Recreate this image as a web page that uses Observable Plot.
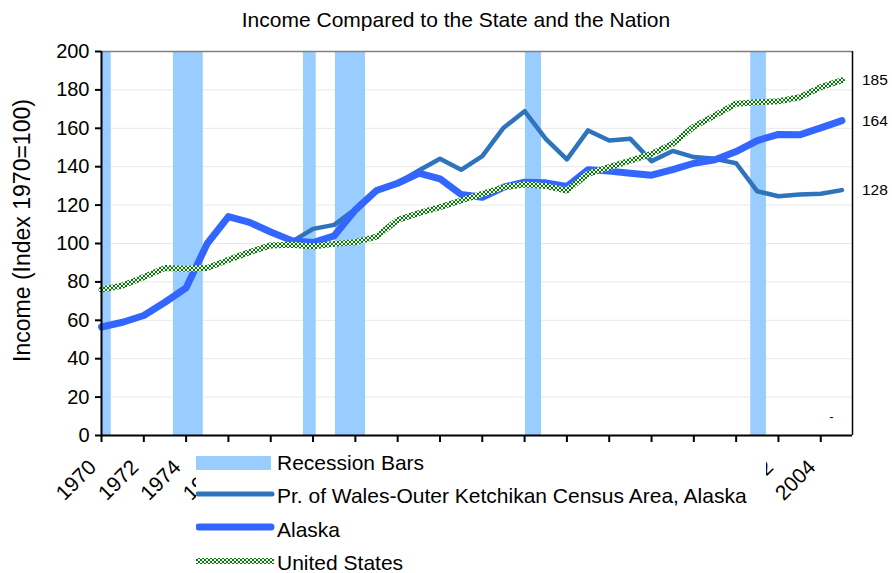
<!DOCTYPE html>
<html><head><meta charset="utf-8">
<script src="https://cdn.jsdelivr.net/npm/d3@7"></script>
<script src="https://cdn.jsdelivr.net/npm/@observablehq/plot@0.6"></script>
<style>
body{margin:0;background:#fff;font-family:"Liberation Sans",Arial,sans-serif;}
#wrap{position:relative;width:892px;height:573px;overflow:hidden;background:#fff;}
#chart{position:absolute;left:0;top:0;}
#title{position:absolute;left:0;width:912px;top:8px;text-align:center;font-size:21px;line-height:24px;color:#000;white-space:nowrap;}
#legend{position:absolute;left:196px;top:447px;width:570px;height:126px;background:#fff;}
</style></head><body>
<div id="wrap"><div id="chart"></div><div id="title">Income Compared to the State and the Nation</div><div id="legend"></div></div>
<script>
const years = [1970,1971,1972,1973,1974,1975,1976,1977,1978,1979,1980,1981,1982,1983,1984,1985,1986,1987,1988,1989,1990,1991,1992,1993,1994,1995,1996,1997,1998,1999,2000,2001,2002,2003,2004,2005];
const walesValues = [null,null,null,null,null,null,null,null,null,101,107.6,109.7,118,128,131.5,138,144.1,138.4,145.5,160.2,168.9,154.5,143.8,158.9,153.6,154.5,142.9,148.2,145,144.1,141.8,127.2,124.6,125.5,125.9,127.8];
const alaskaValues = [56.5,59,62.5,69.4,76.9,100,114,111,106,101.5,100.5,104,117.5,127.6,131.4,136.6,133.7,125.5,124.1,129.3,131.9,131.6,129.7,138.4,137.7,136.6,135.6,138.5,141.8,143.6,147.9,153.6,156.8,156.6,160.2,164];
const usValues = [76,78.1,82.5,87.2,86.8,87.2,91.5,95.5,99,99.3,98.4,99.8,100.7,103.6,112.3,115.8,118.9,122.4,125.9,129.3,130.7,129.9,127.6,136.3,139.8,143.2,146.7,152,160.9,166.7,172.8,173.6,174.1,176.2,181.4,185];
const recessionStart = [1970.0,1973.40,1979.55,1981.06,1990.04,2000.69];
const recessionEnd   = [1970.46,1974.81,1980.15,1982.48,1990.80,2001.43];
const yTicks = [0,20,40,60,80,100,120,140,160,180,200];
const xTicks = [1970,1972,1974,1976,1978,1980,1982,1984,1986,1988,1990,1992,1994,1996,1998,2000,2002,2004];
const endLabels = ["185","164","128"];
const endValues = [185,164,128];
const noteText = ["-"];
const noteX = [2004.5];
const noteY = [9.5];
const seriesNames = ["Recession Bars","Pr. of Wales-Outer Ketchikan Census Area, Alaska","Alaska","United States"];
const yLabel = "Income (Index 1970=100)";

const C_REC = "#99ccff", C_WALES = "#2e74bd", C_AK = "#3366ff", C_US = "#008001";

const rows = (vals) => years.map((y,i)=>({year:y, v:vals[i]}));
const recs = recessionStart.map((s,i)=>({s, e:recessionEnd[i]}));
const ends = endValues.map((v,i)=>({v, t:endLabels[i]}));
const notes = noteText.map((t,i)=>({t, x:noteX[i], y:noteY[i]}));

const plot = Plot.plot({
  width: 892, height: 573,
  marginLeft: 101, marginRight: 40, marginTop: 51, marginBottom: 138,
  style: {fontFamily: '"Liberation Sans", Arial, sans-serif', fontSize: "20px", color: "#000", background: "#fff"},
  x: {domain: [1970, 2005.5], axis: null},
  y: {domain: [0, 200], axis: null},
  marks: [
    Plot.ruleY(yTicks.slice(1, -1), {stroke: "#e8e8e8", strokeWidth: 1}),
    Plot.rectX(recs, {x1: "s", x2: "e", y1: 0, y2: 200, fill: C_REC}),
    Plot.ruleY([200], {stroke: "#808080", strokeWidth: 1.5}),
    Plot.ruleX([2005.5], {stroke: "#000", strokeWidth: 1.5}),
    Plot.line(rows(walesValues), {x: "year", y: "v", stroke: C_WALES, strokeWidth: 4.5, defined: d => d.v != null, strokeLinejoin: "round"}),
    Plot.line(rows(alaskaValues), {x: "year", y: "v", stroke: C_AK, strokeWidth: 7, strokeLinejoin: "round", strokeLinecap: "round"}),
    Plot.line(rows(usValues), {x: "year", y: "v", stroke: C_US, strokeWidth: 6, strokeLinejoin: "round"}),
    Plot.ruleX([1970], {stroke: "#000", strokeWidth: 2}),
    Plot.ruleY([0], {stroke: "#000", strokeWidth: 2}),
    Plot.axisY({ticks: yTicks, tickSize: 6, tickPadding: 6, tickFormat: d => String(d), fontSize: 20, strokeWidth: 2, label: null}),
    Plot.axisX({ticks: xTicks, tickSize: 7, tickFormat: () => "", strokeWidth: 2, label: null}),
    Plot.text(xTicks, {x: d => d, y: 0, text: d => String(d), rotate: -45, textAnchor: "end", lineAnchor: "bottom", dx: -4, dy: 33, fontSize: 21}),
    Plot.text(ends, {x: 2005, y: "v", text: "t", dx: 20, textAnchor: "start", fontSize: 15.5}),
    Plot.text(notes, {x: "x", y: "y", text: "t", fontSize: 13}),
    Plot.text([yLabel], {frameAnchor: "left", textAnchor: "middle", dx: -79, dy: -13, rotate: -90, fontSize: 23})
  ]
});
document.getElementById("chart").appendChild(plot);

function addChecker(svgSel, id, off) {
  const defs = svgSel.insert("defs", ":first-child");
  const p = defs.append("pattern").attr("id", id).attr("patternUnits", "userSpaceOnUse")
    .attr("x", off).attr("y", off).attr("width", 4).attr("height", 4);
  p.append("rect").attr("width", 4).attr("height", 4).attr("fill", "#fff").attr("shape-rendering", "crispEdges");
  p.append("rect").attr("width", 2).attr("height", 2).attr("fill", "#008000").attr("shape-rendering", "crispEdges");
  p.append("rect").attr("x", 2).attr("y", 2).attr("width", 2).attr("height", 2).attr("fill", "#008000").attr("shape-rendering", "crispEdges");
}
addChecker(d3.select(plot), "checker", 0.5);
plot.querySelectorAll('[stroke="' + C_US + '"]').forEach(el => el.setAttribute("stroke", "url(#checker)"));

// legend
const lg = d3.select("#legend").append("svg").attr("width", 570).attr("height", 126)
  .style("font-family", '"Liberation Sans", Arial, sans-serif');
addChecker(lg, "checker2", 0);
const baselines = [23, 56, 90, 123];
const swY = [16, 47, 80, 114];
lg.append("rect").attr("x", 0).attr("y", 9).attr("width", 75).attr("height", 14).attr("fill", C_REC);
lg.append("line").attr("x1", 2).attr("x2", 76).attr("y1", swY[1]).attr("y2", swY[1]).attr("stroke", C_WALES).attr("stroke-width", 5).attr("stroke-linecap", "round");
lg.append("line").attr("x1", 3).attr("x2", 75).attr("y1", swY[2]).attr("y2", swY[2]).attr("stroke", C_AK).attr("stroke-width", 7).attr("stroke-linecap", "round");
lg.append("line").attr("x1", 0).attr("x2", 78).attr("y1", swY[3]).attr("y2", swY[3]).attr("stroke", "url(#checker2)").attr("stroke-width", 6).attr("shape-rendering", "crispEdges");
seriesNames.forEach((n, i) => {
  lg.append("text").attr("x", 81).attr("y", baselines[i]).attr("font-size", 21).attr("fill", "#000").text(n);
});
</script>
</body></html>
